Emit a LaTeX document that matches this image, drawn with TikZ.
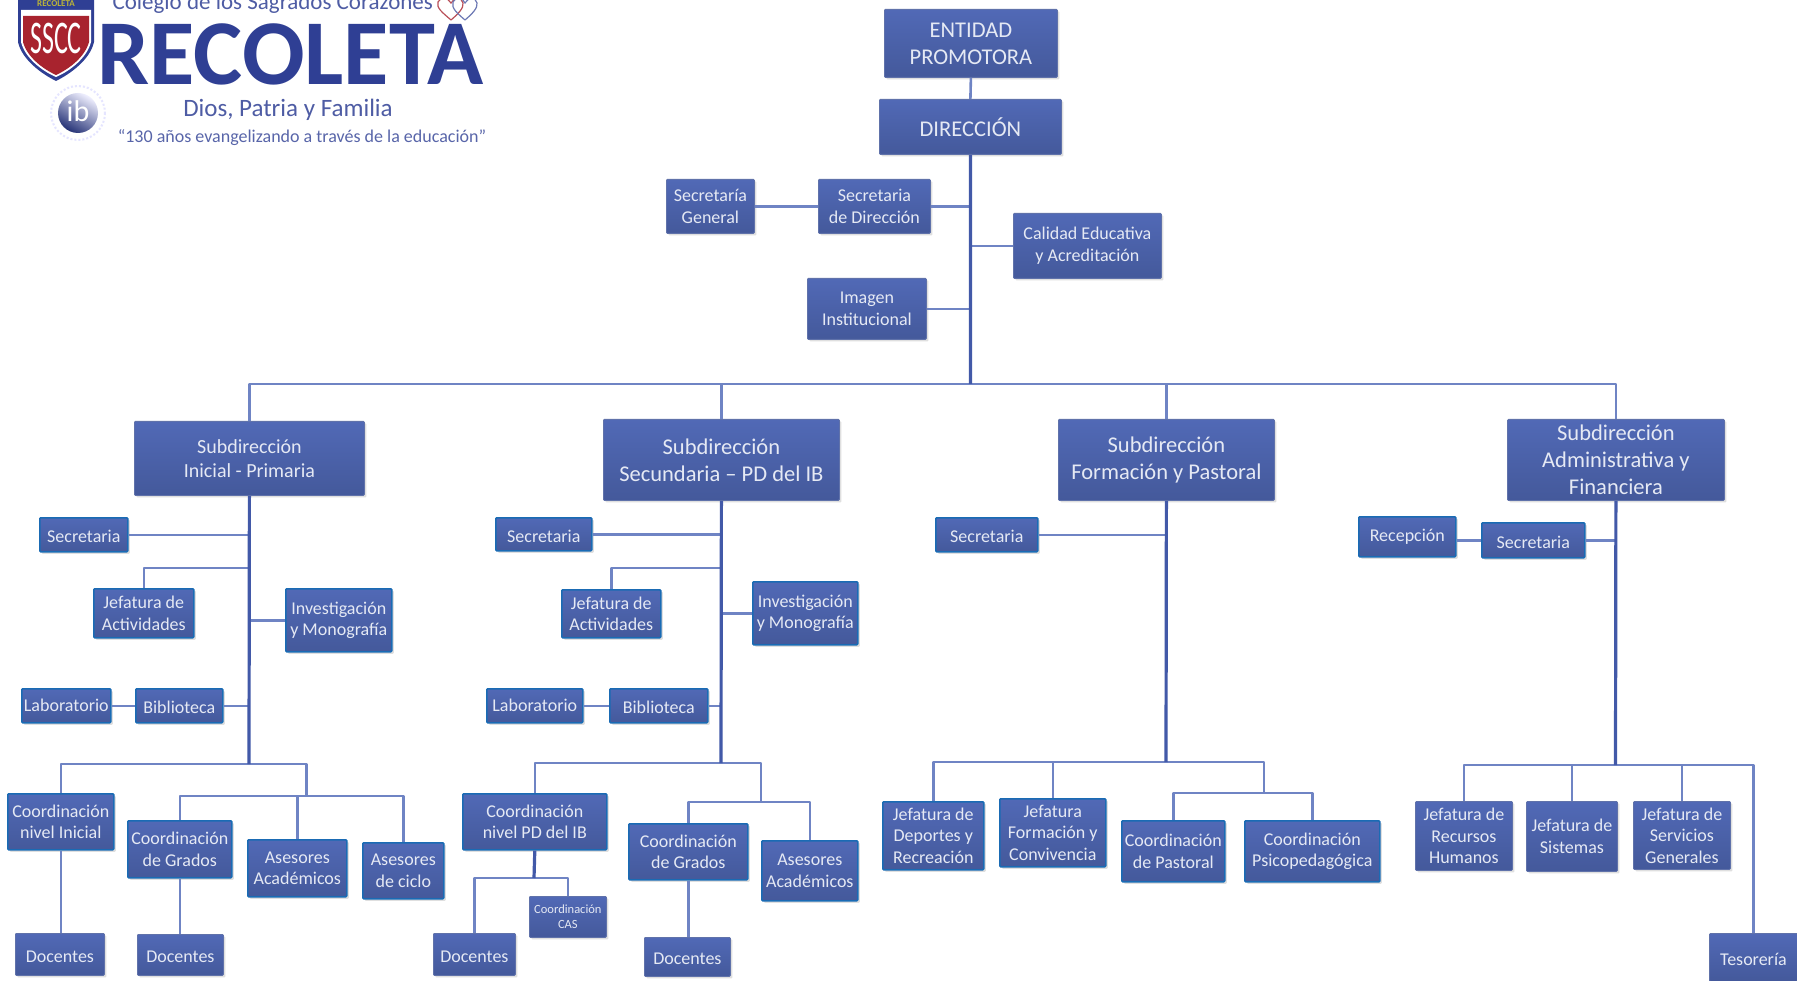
\documentclass[tikz,border=0pt]{standalone}
\usepackage{fontspec}
\setmainfont{Carlito}
\usetikzlibrary{shadows}
\definecolor{boxtop}{HTML}{5169B6}
\definecolor{boxbot}{HTML}{44599B}
\definecolor{boxedge}{HTML}{1A6BB4}
\definecolor{linedark}{HTML}{4259A8}
\definecolor{linesoft}{HTML}{6F84C4}
\definecolor{logoblue}{HTML}{2F3F94}
\definecolor{logored}{HTML}{A8232E}
\tikzset{
  orgbox/.style 2 args={rectangle,anchor=north west,align=center,inner sep=0pt,
    minimum width=#1pt,minimum height=#2pt,top color=boxtop,bottom color=boxbot,
    draw=boxbot!85,line width=.8pt,text=white!85!boxtop,rounded corners=1pt,
    drop shadow={shadow xshift=2pt,shadow yshift=-2pt,opacity=.25}},
  edged/.style={draw=boxedge,line width=1.6pt},
  hugetxt/.style={font=\fontsize{22.5}{27}\selectfont},
  bigtxt/.style={font=\fontsize{20}{24}\selectfont},
  smalltxt/.style={font=\fontsize{18}{21.5}\selectfont},
  tinytxt/.style={font=\fontsize{12.5}{15}\selectfont},
  lowtxt/.style={text height=16pt,text depth=0pt},
  trunk/.style={draw=linedark,line width=3.2pt},
  branch/.style={draw=linesoft,line width=2.6pt,line join=round}
}
\begin{document}
\begin{tikzpicture}[x=1pt,y=-1pt]
  \clip (0,0) rectangle (1797,981);
  \fill[white] (0,0) rectangle (1797,981);
  % logo
  \fill[logoblue] (18,-2) -- (18,42) .. controls (22,60) and (42,74) .. (56,81)
    .. controls (70,74) and (90,60) .. (94,42) -- (94,-2) -- cycle;
  \fill[white] (21,10) -- (91,10) -- (91,42) .. controls (87,58) and (70,71) .. (56,77)
    .. controls (42,71) and (25,58) .. (21,42) -- cycle;
  \fill[logored] (23,16) -- (89,16) -- (89,42) .. controls (85,57) and (69,69) .. (56,75)
    .. controls (43,69) and (27,57) .. (23,42) -- cycle;
  \node[text=yellow!70!black,font=\bfseries\fontsize{9}{9}\selectfont] (shieldtop) at (56,4) {RECOLETA};
  \node[text=white,font=\fontsize{26}{26}\selectfont,inner sep=0pt] (shieldtxt) at (56,38) {\scalebox{1}[1.8]{SSCC}};
  \node[text=logoblue!85,font=\fontsize{23}{22}\selectfont,anchor=west] (colegio) at (109,3) {Colegio de los Sagrados Corazones};
  \draw[logored!80,line width=1.2pt] (451,20) .. controls (443,13) and (436,8) .. (438,2)
    .. controls (440,-3) and (448,-3) .. (451,3) .. controls (454,-3) and (462,-3) .. (463,3)
    .. controls (464,8) and (458,14) .. (451,20);
  \draw[logoblue!70,line width=1.2pt] (465,20) .. controls (457,13) and (451,8) .. (453,2)
    .. controls (455,-3) and (463,-3) .. (465,3) .. controls (468,-3) and (476,-3) .. (477,3)
    .. controls (478,8) and (472,14) .. (465,20);
  \node[text=logoblue,font=\bfseries\fontsize{92.7}{88}\selectfont,anchor=west] (recoleta) at (94,54) {RECOLETA};
  \node[text=logoblue!85,font=\fontsize{25}{24}\selectfont] (lema) at (288,110) {Dios, Patria y Familia};
  \node[text=logoblue!80,font=\fontsize{18}{16}\selectfont] (anios) at (302,138) {``130 años evangelizando a través de la educación''};
  \draw[blue!10,line width=2pt,dotted] (78,113) circle (27);
  \shade[top color=blue!6,bottom color=logoblue!80!black,shading angle=-30] (78,113) circle (20);
  \node[text=white,font=\fontsize{30}{30}\selectfont] (ib) at (78,111) {ib};
  % direccion
  \node[orgbox={173}{68},hugetxt] (promotora) at (884,9) {ENTIDAD\\PROMOTORA};
  \node[orgbox={182}{55},hugetxt] (direccion) at (879,99) {DIRECCIÓN};
  \node[orgbox={88}{54},smalltxt] (secgeneral) at (666,179) {Secretaría\\General};
  \node[orgbox={112}{54},smalltxt] (secdir) at (818,179) {Secretaria\\de Dirección};
  \node[orgbox={148}{65},smalltxt] (calidad) at (1013,213) {Calidad Educativa\\y Acreditación};
  \node[orgbox={119}{61},smalltxt] (imagen) at (807,278) {Imagen\\Institucional};
  % subdirecciones
  \node[orgbox={230}{74},bigtxt] (subinicial) at (134,421) {Subdirección\\Inicial - Primaria};
  \node[orgbox={236}{81},hugetxt] (subsec) at (603,419) {Subdirección\\Secundaria -- PD del IB};
  \node[orgbox={216}{81},hugetxt] (subform) at (1058,419) {Subdirección\\Formación y Pastoral};
  \node[orgbox={217}{81},hugetxt] (subadm) at (1507,419) {Subdirección\\Administrativa y\\Financiera};
  % inicial - primaria
  \node[orgbox={88}{34},edged,smalltxt,lowtxt] (secini) at (39,517) {Secretaria};
  \node[orgbox={100}{49},edged,smalltxt] (jefini) at (93,588) {Jefatura de\\Actividades};
  \node[orgbox={106}{63},edged,smalltxt] (invini) at (285,588) {Investigación\\y Monografía};
  \node[orgbox={89}{34},edged,smalltxt] (labini) at (21,688) {Laboratorio};
  \node[orgbox={87}{34},edged,smalltxt,lowtxt] (bibini) at (135,688) {Biblioteca};
  \node[orgbox={106}{56},edged,smalltxt] (coordini) at (7,793) {Coordinación\\nivel Inicial};
  \node[orgbox={104}{57},edged,smalltxt] (gradini) at (127,820) {Coordinación\\de Grados};
  \node[orgbox={99}{57},edged,smalltxt] (aseacad) at (247,839) {Asesores\\Académicos};
  \node[orgbox={81}{56},edged,smalltxt] (aseciclo) at (362,842) {Asesores\\de ciclo};
  \node[orgbox={89}{42},smalltxt,lowtxt] (docini) at (15,933) {Docentes};
  \node[orgbox={86}{41},smalltxt,lowtxt] (docgrad) at (137,934) {Docentes};
  % secundaria
  \node[orgbox={96}{33},edged,smalltxt,lowtxt] (secsec) at (495,517) {Secretaria};
  \node[orgbox={99}{48},edged,smalltxt] (jefsec) at (561,589) {Jefatura de\\Actividades};
  \node[orgbox={105}{63},edged,smalltxt] (invsec) at (752,581) {Investigación\\y Monografía};
  \node[orgbox={96}{34},edged,smalltxt] (labsec) at (486,688) {Laboratorio};
  \node[orgbox={98}{34},edged,smalltxt,lowtxt] (bibsec) at (609,688) {Biblioteca};
  \node[orgbox={144}{56},edged,smalltxt] (coordib) at (462,793) {Coordinación\\nivel PD del IB};
  \node[orgbox={77}{41},tinytxt] (coordcas) at (529,896) {Coordinación\\CAS};
  \node[orgbox={82}{42},smalltxt,lowtxt] (docib) at (433,933) {Docentes};
  \node[orgbox={119}{56},edged,smalltxt] (gradsec) at (628,823) {Coordinación\\de Grados};
  \node[orgbox={96}{60},edged,smalltxt] (aseacadsec) at (761,840) {Asesores\\Académicos};
  \node[orgbox={86}{39},smalltxt,lowtxt] (docsec) at (644,937) {Docentes};
  % formacion
  \node[orgbox={102}{34},edged,smalltxt,lowtxt] (secform) at (935,517) {Secretaria};
  \node[orgbox={101}{68},edged,smalltxt] (jefdep) at (882,801) {Jefatura de\\Deportes y\\Recreación};
  \node[orgbox={106}{68},edged,smalltxt] (jefconv) at (999,798) {Jefatura\\Formación y\\Convivencia};
  \node[orgbox={103}{61},edged,smalltxt] (coordpas) at (1121,820) {Coordinación\\de Pastoral};
  \node[orgbox={135}{61},edged,smalltxt] (coordpsi) at (1244,820) {Coordinación\\Psicopedagógica};
  % administrativa
  \node[orgbox={97}{40},edged,smalltxt] (recepcion) at (1358,516) {Recepción};
  \node[orgbox={103}{35},edged,smalltxt,lowtxt] (secadm) at (1481,522) {Secretaria};
  \node[orgbox={97}{69},smalltxt] (jefrh) at (1415,801) {Jefatura de\\Recursos\\Humanos};
  \node[orgbox={91}{70},smalltxt] (jefsis) at (1526,801) {Jefatura de\\Sistemas};
  \node[orgbox={97}{68},smalltxt] (jefserv) at (1633,801) {Jefatura de\\Servicios\\Generales};
  \node[orgbox={88}{48},smalltxt,lowtxt] (tesoreria) at (1709,933) {Tesorería};
  % junctions
  \coordinate (busmain) at (970.5,384);
  \coordinate (busini) at (249,764);
  \coordinate (busgrad) at (306.5,796);
  \coordinate (stepini) at (249,568);
  \coordinate (bussec) at (721,763);
  \coordinate (busgradsec) at (761,802);
  \coordinate (stepsec) at (721,568);
  \coordinate (busdoc) at (534,878);
  \coordinate (busform) at (1166,762);
  \coordinate (buspas) at (1264,793);
  \coordinate (busadm) at (1615.5,765);
  % connectors
  \begin{scope}[every path/.style={branch}]
    \draw (promotora.south) -- (direccion.north);
    \draw (secgeneral.east) -- (secdir.west);
    \draw (secdir.east) -- (secdir.east -| busmain);
    \draw (calidad.west) -- (calidad.west -| busmain);
    \draw (imagen.east) -- (imagen.east -| busmain);
    \draw (subinicial.north) |- (busmain);
    \draw (subadm.north) |- (busmain);
    \draw (subsec.north) -- (subsec.north |- busmain);
    \draw (subform.north) -- (subform.north |- busmain);
    % inicial
    \draw (secini.east) -- (secini.east -| subinicial.south);
    \draw (stepini) -| (jefini.north);
    \draw (invini.west) -- (invini.west -| subinicial.south);
    \draw (labini.east) -- (bibini.west);
    \draw (bibini.east) -- (bibini.east -| subinicial.south);
    \draw (busini) -| (coordini.north);
    \draw (busini) -| (busgrad);
    \draw (busgrad) -| (gradini.north);
    \draw (busgrad) -| (aseciclo.north);
    \draw (aseacad.north) -- (aseacad.north |- busgrad);
    \draw (coordini.south) -- (coordini.south |- docini.north);
    \draw (gradini.south) -- (gradini.south |- docgrad.north);
    % secundaria
    \draw (secsec.east) -- (secsec.east -| subsec.south);
    \draw (stepsec) -| (jefsec.north);
    \draw (invsec.west) -- (invsec.west -| subsec.south);
    \draw (labsec.east) -- (bibsec.west);
    \draw (bibsec.east) -- (bibsec.east -| subsec.south);
    \draw (bussec) -| (coordib.north);
    \draw (bussec) -| (busgradsec);
    \draw (busgradsec) -| (gradsec.north);
    \draw (busgradsec) -| (aseacadsec.north);
    \draw (busdoc) -| (docib.north);
    \draw (busdoc) -| (coordcas.north);
    \draw (gradsec.south) -- (gradsec.south |- docsec.north);
    % formacion
    \draw (secform.east) -- (secform.east -| subform.south);
    \draw (busform) -| (jefdep.north);
    \draw (busform) -| (buspas);
    \draw (jefconv.north) -- (jefconv.north |- busform);
    \draw (buspas) -| (coordpas.north);
    \draw (buspas) -| (coordpsi.north);
    % administrativa
    \draw (recepcion.east |- secadm.west) -- (secadm.west);
    \draw (secadm.east) -- (secadm.east -| subadm.south);
    \draw (busadm) -| (jefrh.north);
    \draw (busadm) -| (tesoreria.north);
    \draw (jefsis.north) -- (jefsis.north |- busadm);
    \draw (jefserv.north) -- (jefserv.north |- busadm);
  \end{scope}
  \draw[trunk] (direccion.south) -- (busmain);
  \draw[trunk] (subinicial.south) -- (busini);
  \draw[trunk] (subsec.south) -- (bussec);
  \draw[trunk] (subform.south) -- (busform);
  \draw[trunk] (subadm.south) -- (busadm);
  \draw[trunk] (coordib.south) -- (busdoc);
\end{tikzpicture}
\end{document}
